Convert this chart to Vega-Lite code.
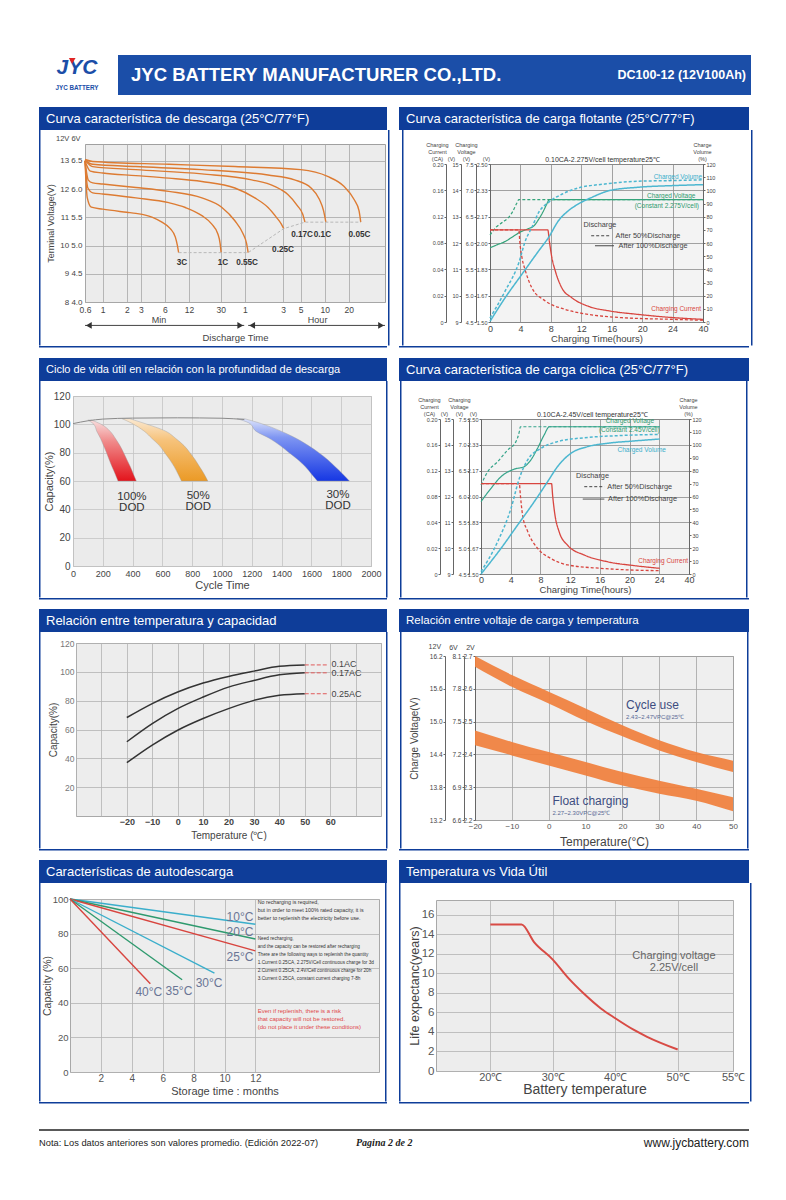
{
"padding":{"left":38,"top":55,"right":4,"bottom":4},
"background":"#ffffff",
"spacing":0,
"config":{
 "view":{"stroke":null},
 "concat":{"spacing":0},
 "font":"Liberation Sans",
 "axis":{"labelFont":"Liberation Sans","titleFont":"Liberation Sans","labelColor":"#444444","titleColor":"#444444","titleFontWeight":"normal","gridColor":"#b0b0b0","gridWidth":0.8,"domain":false,"ticks":false,"labelFlush":false,"labelOverlap":false,"domainColor":"#666666","tickColor":"#666666"},
 "title":{"font":"Liberation Sans","fontWeight":"normal","color":"#444444","frame":"group"},
 "text":{"font":"Liberation Sans"}
},
"datasets":{
"dis":[
{"rate":"3C","t":0.6,"v":13.0},{"rate":"3C","t":0.64,"v":11.7},{"rate":"3C","t":0.72,"v":11.36},{"rate":"3C","t":1,"v":11.29},{"rate":"3C","t":2,"v":11.18},{"rate":"3C","t":2.6,"v":11.14},{"rate":"3C","t":4.2,"v":11.0},{"rate":"3C","t":5.5,"v":10.83},{"rate":"3C","t":7,"v":10.6},{"rate":"3C","t":8.1,"v":10.3},{"rate":"3C","t":8.6,"v":10.0},{"rate":"3C","t":8.9,"v":9.75},
{"rate":"1C","t":0.6,"v":13.0},{"rate":"1C","t":0.65,"v":12.05},{"rate":"1C","t":0.75,"v":11.87},{"rate":"1C","t":1,"v":11.83},{"rate":"1C","t":2.6,"v":11.69},{"rate":"1C","t":6.7,"v":11.52},{"rate":"1C","t":10.8,"v":11.35},{"rate":"1C","t":17.4,"v":11.06},{"rate":"1C","t":23,"v":10.77},{"rate":"1C","t":27.5,"v":10.42},{"rate":"1C","t":29.4,"v":10.08},{"rate":"1C","t":30.3,"v":9.75},
{"rate":"0.55C","t":0.6,"v":13.0},{"rate":"0.55C","t":0.66,"v":12.32},{"rate":"0.55C","t":0.75,"v":12.22},{"rate":"0.55C","t":1,"v":12.18},{"rate":"0.55C","t":2.6,"v":12.06},{"rate":"0.55C","t":6.7,"v":11.92},{"rate":"0.55C","t":17.4,"v":11.69},{"rate":"0.55C","t":31,"v":11.35},{"rate":"0.55C","t":45,"v":10.88},{"rate":"0.55C","t":57,"v":10.42},{"rate":"0.55C","t":63,"v":10.08},{"rate":"0.55C","t":66,"v":9.75},
{"rate":"0.25C","t":0.6,"v":13.0},{"rate":"0.25C","t":0.7,"v":12.64},{"rate":"0.25C","t":1,"v":12.57},{"rate":"0.25C","t":2.6,"v":12.48},{"rate":"0.25C","t":6.7,"v":12.39},{"rate":"0.25C","t":17.4,"v":12.27},{"rate":"0.25C","t":45,"v":12.04},{"rate":"0.25C","t":80,"v":11.69},{"rate":"0.25C","t":117,"v":11.35},{"rate":"0.25C","t":149,"v":11.0},{"rate":"0.25C","t":171,"v":10.77},{"rate":"0.25C","t":184,"v":10.6},
{"rate":"0.17C","t":0.6,"v":13.02},{"rate":"0.17C","t":0.75,"v":12.8},{"rate":"0.17C","t":2.6,"v":12.69},{"rate":"0.17C","t":17.4,"v":12.54},{"rate":"0.17C","t":73,"v":12.33},{"rate":"0.17C","t":141,"v":12.1},{"rate":"0.17C","t":207,"v":11.81},{"rate":"0.17C","t":275,"v":11.4},{"rate":"0.17C","t":317,"v":11.12},{"rate":"0.17C","t":339,"v":10.83},
{"rate":"0.1C","t":0.6,"v":13.03},{"rate":"0.1C","t":0.75,"v":12.88},{"rate":"0.1C","t":2.6,"v":12.8},{"rate":"0.1C","t":17.4,"v":12.69},{"rate":"0.1C","t":117,"v":12.5},{"rate":"0.1C","t":251,"v":12.33},{"rate":"0.1C","t":404,"v":12.04},{"rate":"0.1C","t":513,"v":11.64},{"rate":"0.1C","t":580,"v":11.23},{"rate":"0.1C","t":619,"v":10.83},
{"rate":"0.05C","t":0.6,"v":13.05},{"rate":"0.05C","t":0.75,"v":12.98},{"rate":"0.05C","t":6.7,"v":12.88},{"rate":"0.05C","t":45,"v":12.8},{"rate":"0.05C","t":300,"v":12.69},{"rate":"0.05C","t":651,"v":12.45},{"rate":"0.05C","t":1040,"v":12.1},{"rate":"0.05C","t":1391,"v":11.64},{"rate":"0.05C","t":1611,"v":11.23},{"rate":"0.05C","t":1690,"v":10.83}
],
"disEnd":[{"t":8.9,"v":9.75},{"t":30.3,"v":9.75},{"t":66,"v":9.75},{"t":184,"v":10.6},{"t":339,"v":10.83},{"t":619,"v":10.83},{"t":1690,"v":10.83}],
"disLab":[{"t":9.8,"v":9.38,"label":"3C"},{"t":32,"v":9.38,"label":"1C"},{"t":64,"v":9.38,"label":"0.55C"},{"t":180,"v":9.84,"label":"0.25C"},{"t":312,"v":10.36,"label":"0.17C"},{"t":560,"v":10.36,"label":"0.1C"},{"t":1630,"v":10.36,"label":"0.05C"}],
"disArrow":[{"t":0.6,"t2":58.9,"v":7.17},{"t":66,"t2":3400,"v":7.17}],
"disHead":[{"t":0.67,"v":7.17,"dir":"L"},{"t":52.6,"v":7.17,"dir":"R"},{"t":74,"v":7.17,"dir":"L"},{"t":3036,"v":7.17,"dir":"R"}],
"disUnit":[{"t":5.05,"v":7.36,"label":"Min"},{"t":488,"v":7.36,"label":"Hour"}],
"p2v":[
{"dis":"50%","h":0,"val":2.05},{"dis":"50%","h":0.8,"val":2.1},{"dis":"50%","h":1.6,"val":2.13},{"dis":"50%","h":2.4,"val":2.16},{"dis":"50%","h":3.0,"val":2.2},{"dis":"50%","h":3.5,"val":2.25},{"dis":"50%","h":3.8,"val":2.275},{"dis":"50%","h":40,"val":2.275},
{"dis":"100%","h":0,"val":1.97},{"dis":"100%","h":1,"val":1.99},{"dis":"100%","h":2,"val":2.01},{"dis":"100%","h":3,"val":2.04},{"dis":"100%","h":4,"val":2.07},{"dis":"100%","h":5,"val":2.09},{"dis":"100%","h":5.8,"val":2.11},{"dis":"100%","h":6.4,"val":2.15},{"dis":"100%","h":7.0,"val":2.2},{"dis":"100%","h":7.5,"val":2.25},{"dis":"100%","h":7.8,"val":2.275},{"dis":"100%","h":40,"val":2.275}
],
"p2c":[
{"dis":"100%","h":0,"ca":0.1},{"dis":"100%","h":7.6,"ca":0.1},{"dis":"100%","h":7.8,"ca":0.083},{"dis":"100%","h":8.13,"ca":0.058},{"dis":"100%","h":8.57,"ca":0.039},{"dis":"100%","h":9.43,"ca":0.026},{"dis":"100%","h":10.74,"ca":0.0185},{"dis":"100%","h":12.9,"ca":0.012},{"dis":"100%","h":15.7,"ca":0.0084},{"dis":"100%","h":19.4,"ca":0.0058},{"dis":"100%","h":24.5,"ca":0.0033},{"dis":"100%","h":40,"ca":0.002},
{"dis":"50%","h":0,"ca":0.1},{"dis":"50%","h":3.8,"ca":0.1},{"dis":"50%","h":3.91,"ca":0.083},{"dis":"50%","h":4.2,"ca":0.058},{"dis":"50%","h":4.65,"ca":0.039},{"dis":"50%","h":5.5,"ca":0.026},{"dis":"50%","h":7.26,"ca":0.016},{"dis":"50%","h":9.87,"ca":0.0096},{"dis":"50%","h":12.9,"ca":0.0058},{"dis":"50%","h":17.3,"ca":0.0033},{"dis":"50%","h":24.5,"ca":0.002},{"dis":"50%","h":40,"ca":0.0013}
],
"p2p":[
{"dis":"100%","h":0,"pct":0.5},{"dis":"100%","h":2,"pct":18.5},{"dis":"100%","h":4.2,"pct":36.3},{"dis":"100%","h":6.4,"pct":54},{"dis":"100%","h":7.7,"pct":64.2},{"dis":"100%","h":9,"pct":76.9},{"dis":"100%","h":10.3,"pct":84.5},{"dis":"100%","h":11.6,"pct":89.6},{"dis":"100%","h":13.4,"pct":94.7},{"dis":"100%","h":15.7,"pct":99.8},{"dis":"100%","h":19.4,"pct":102.3},{"dis":"100%","h":24,"pct":103.6},{"dis":"100%","h":40,"pct":104.3},
{"dis":"50%","h":0,"pct":3},{"dis":"50%","h":2,"pct":23.6},{"dis":"50%","h":3.8,"pct":45.2},{"dis":"50%","h":4.65,"pct":61.7},{"dis":"50%","h":5.5,"pct":71.8},{"dis":"50%","h":6.4,"pct":83.2},{"dis":"50%","h":7.7,"pct":90.9},{"dis":"50%","h":9.5,"pct":97.2},{"dis":"50%","h":11.6,"pct":101.8},{"dis":"50%","h":15.1,"pct":104.8},{"dis":"50%","h":19.4,"pct":106.9},{"dis":"50%","h":24,"pct":107.4},{"dis":"50%","h":40,"pct":108}
],
"p2lab":[{"h":39.5,"pct":110.5,"label":"Charged Volume","kind":"vol"},{"h":36,"pct":95.4,"label":"Charged Voltage","kind":"volt"},{"h":37.9,"pct":88.3,"label":"(Constant 2.275V/cell)","kind":"volt"},{"h":39,"pct":9.6,"label":"Charging Current","kind":"cur"}],
"p2leg":[{"h":12.3,"pct":73.6,"label":"Discharge"},{"h":16.5,"pct":65.5,"label":"After 50%Discharge"},{"h":16.9,"pct":57.9,"label":"After 100%Discharge"}],
"p2legl":[{"h":13.3,"h2":15.9,"pct":65.5,"dis":"50%"},{"h":13.8,"h2":16.3,"pct":57.9,"dis":"100%"}],
"p2title":[{"h":14.8,"pct":120.6,"label":"0.10CA-2.275V/cell temperature25℃"}],
"p4v":[
{"dis":"50%","h":0,"val":2.074},{"dis":"50%","h":0.9,"val":2.16},{"dis":"50%","h":2.24,"val":2.225},{"dis":"50%","h":3.59,"val":2.3},{"dis":"50%","h":4.7,"val":2.354},{"dis":"50%","h":5.16,"val":2.418},{"dis":"50%","h":5.3,"val":2.45},{"dis":"50%","h":24.2,"val":2.45},
{"dis":"100%","h":0,"val":1.967},{"dis":"100%","h":1.35,"val":2.053},{"dis":"100%","h":2.7,"val":2.128},{"dis":"100%","h":4.5,"val":2.177},{"dis":"100%","h":5.8,"val":2.192},{"dis":"100%","h":6.7,"val":2.235},{"dis":"100%","h":7.6,"val":2.31},{"dis":"100%","h":8.5,"val":2.397},{"dis":"100%","h":9.2,"val":2.45},{"dis":"100%","h":24.2,"val":2.45}
],
"p4c":[
{"dis":"100%","h":0,"ca":0.1},{"dis":"100%","h":9.5,"ca":0.1},{"dis":"100%","h":9.64,"ca":0.082},{"dis":"100%","h":9.96,"ca":0.051},{"dis":"100%","h":10.5,"ca":0.033},{"dis":"100%","h":11.7,"ca":0.022},{"dis":"100%","h":13.9,"ca":0.0147},{"dis":"100%","h":17,"ca":0.0095},{"dis":"100%","h":20.6,"ca":0.0065},{"dis":"100%","h":24.2,"ca":0.0044},
{"dis":"50%","h":0,"ca":0.1},{"dis":"50%","h":5.16,"ca":0.1},{"dis":"50%","h":5.3,"ca":0.082},{"dis":"50%","h":5.6,"ca":0.051},{"dis":"50%","h":6.28,"ca":0.033},{"dis":"50%","h":7.6,"ca":0.02},{"dis":"50%","h":9.4,"ca":0.012},{"dis":"50%","h":11.7,"ca":0.007},{"dis":"50%","h":16.1,"ca":0.0044},{"dis":"50%","h":20.6,"ca":0.003},{"dis":"50%","h":24.2,"ca":0.0026}
],
"p4p":[
{"dis":"100%","h":0,"pct":0},{"dis":"100%","h":2.7,"pct":19.9},{"dis":"100%","h":4.93,"pct":37.9},{"dis":"100%","h":7.17,"pct":56},{"dis":"100%","h":8.97,"pct":71.5},{"dis":"100%","h":10.3,"pct":83.1},{"dis":"100%","h":12.1,"pct":93.4},{"dis":"100%","h":14.35,"pct":98.6},{"dis":"100%","h":17,"pct":101.2},{"dis":"100%","h":20.6,"pct":103},{"dis":"100%","h":24.2,"pct":104.5},
{"dis":"50%","h":0,"pct":1.8},{"dis":"50%","h":2.24,"pct":25},{"dis":"50%","h":4.04,"pct":50.8},{"dis":"50%","h":5.16,"pct":74},{"dis":"50%","h":6.28,"pct":88.3},{"dis":"50%","h":8.07,"pct":97.3},{"dis":"50%","h":10.3,"pct":102.5},{"dis":"50%","h":13.9,"pct":105.5},{"dis":"50%","h":18.4,"pct":107.1},{"dis":"50%","h":24.2,"pct":108.1}
],
"p4lab":[{"h":23.3,"pct":118.5,"label":"Charged Voltage","kind":"volt"},{"h":24.2,"pct":111.5,"label":"(Constant 2.45V/cell)","kind":"volt"},{"h":27.6,"pct":96,"label":"Charged Volume","kind":"vol"},{"h":39.5,"pct":10.3,"label":"Charging Current","kind":"cur"}],
"p4leg":[{"h":12.8,"pct":75.9,"label":"Discharge"},{"h":17.0,"pct":67.6,"label":"After 50%Discharge"},{"h":17.1,"pct":58,"label":"After 100%Discharge"}],
"p4legl":[{"h":13.9,"h2":16.6,"pct":67.6,"dis":"50%"},{"h":13.7,"h2":16.6,"pct":58,"dis":"100%"}],
"p4title":[{"h":15,"pct":120.6,"label":"0.10CA-2.45V/cell temperature25℃"}],
"p3top":[{"cyc":0,"cap":100.5},{"cyc":100,"cap":102.5},{"cyc":200,"cap":103.7},{"cyc":400,"cap":104.4},{"cyc":700,"cap":104.6},{"cyc":1000,"cap":104.3},{"cyc":1150,"cap":103.4}],
"p3band":[
{"band":"r","cap":103,"lo":100,"hi":125},{"band":"r","cap":100,"lo":140,"hi":190},{"band":"r","cap":95,"lo":160,"hi":250},{"band":"r","cap":90,"lo":185,"hi":285},{"band":"r","cap":85,"lo":205,"hi":315},{"band":"r","cap":80,"lo":225,"hi":340},{"band":"r","cap":75,"lo":243,"hi":362},{"band":"r","cap":70,"lo":262,"hi":385},{"band":"r","cap":65,"lo":283,"hi":405},{"band":"r","cap":60,"lo":302,"hi":425},
{"band":"o","cap":104,"lo":330,"hi":380},{"band":"o","cap":101,"lo":390,"hi":470},{"band":"o","cap":95,"lo":480,"hi":625},{"band":"o","cap":90,"lo":530,"hi":690},{"band":"o","cap":85,"lo":580,"hi":745},{"band":"o","cap":80,"lo":615,"hi":785},{"band":"o","cap":75,"lo":650,"hi":820},{"band":"o","cap":70,"lo":680,"hi":850},{"band":"o","cap":65,"lo":705,"hi":880},{"band":"o","cap":60,"lo":728,"hi":905},
{"band":"b","cap":104,"lo":1100,"hi":1150},{"band":"b","cap":101,"lo":1180,"hi":1250},{"band":"b","cap":95,"lo":1230,"hi":1400},{"band":"b","cap":90,"lo":1320,"hi":1500},{"band":"b","cap":85,"lo":1390,"hi":1580},{"band":"b","cap":80,"lo":1450,"hi":1650},{"band":"b","cap":75,"lo":1510,"hi":1710},{"band":"b","cap":70,"lo":1560,"hi":1760},{"band":"b","cap":65,"lo":1600,"hi":1810},{"band":"b","cap":60,"lo":1640,"hi":1855}
],
"p3lab":[{"cyc":395,"cap":48.5,"label":"100%\nDOD"},{"cyc":840,"cap":49.6,"label":"50%\nDOD"},{"cyc":1778,"cap":50.2,"label":"30%\nDOD"}],
"p5":[
{"rate":"0.1AC","temp":-20,"cap":68.3},{"rate":"0.1AC","temp":-10,"cap":78},{"rate":"0.1AC","temp":0,"cap":86},{"rate":"0.1AC","temp":10,"cap":92.2},{"rate":"0.1AC","temp":20,"cap":96.8},{"rate":"0.1AC","temp":30,"cap":100.5},{"rate":"0.1AC","temp":40,"cap":103.9},{"rate":"0.1AC","temp":50,"cap":104.8},
{"rate":"0.17AC","temp":-20,"cap":51.5},{"rate":"0.17AC","temp":-10,"cap":64.1},{"rate":"0.17AC","temp":0,"cap":74.5},{"rate":"0.17AC","temp":10,"cap":82.5},{"rate":"0.17AC","temp":20,"cap":89.4},{"rate":"0.17AC","temp":30,"cap":94},{"rate":"0.17AC","temp":40,"cap":97.9},{"rate":"0.17AC","temp":50,"cap":99.3},
{"rate":"0.25AC","temp":-20,"cap":37},{"rate":"0.25AC","temp":-10,"cap":49.2},{"rate":"0.25AC","temp":0,"cap":59.5},{"rate":"0.25AC","temp":10,"cap":67.6},{"rate":"0.25AC","temp":20,"cap":74.5},{"rate":"0.25AC","temp":30,"cap":80.2},{"rate":"0.25AC","temp":40,"cap":83.7},{"rate":"0.25AC","temp":50,"cap":84.8}
],
"p5d":[{"temp":50,"temp2":59.3,"cap":104.8},{"temp":50,"temp2":59.3,"cap":99.3},{"temp":50,"temp2":59.3,"cap":84.8}],
"p5lab":[{"temp":60.5,"cap":105.6,"label":"0.1AC"},{"temp":60.5,"cap":99.2,"label":"0.17AC"},{"temp":60.5,"cap":84.6,"label":"0.25AC"}],
"p6":[
{"band":"cycle","temp":-20,"hi":2.7,"lo":2.667},{"band":"cycle","temp":-10,"hi":2.642,"lo":2.606},{"band":"cycle","temp":0,"hi":2.591,"lo":2.555},{"band":"cycle","temp":10,"hi":2.54,"lo":2.502},{"band":"cycle","temp":20,"hi":2.489,"lo":2.455},{"band":"cycle","temp":30,"hi":2.443,"lo":2.412},{"band":"cycle","temp":40,"hi":2.407,"lo":2.377},{"band":"cycle","temp":50,"hi":2.381,"lo":2.346},
{"band":"float","temp":-20,"hi":2.473,"lo":2.428},{"band":"float","temp":-10,"hi":2.438,"lo":2.397},{"band":"float","temp":0,"hi":2.407,"lo":2.366},{"band":"float","temp":10,"hi":2.377,"lo":2.336},{"band":"float","temp":20,"hi":2.346,"lo":2.305},{"band":"float","temp":30,"hi":2.32,"lo":2.28},{"band":"float","temp":40,"hi":2.295,"lo":2.259},{"band":"float","temp":50,"hi":2.269,"lo":2.227}
],
"p6lab":[{"temp":21,"v":2.55,"label":"Cycle use"},{"temp":1,"v":2.259,"label":"Float charging"}],
"p6sub":[{"temp":21,"v":2.513,"label":"2.43~2.47VPC@25℃"},{"temp":1,"v":2.221,"label":"2.27~2.30VPC@25℃"}],
"p6hdr":[{"temp":-30.9,"v":2.7274,"label":"12V"}],
"p7":[
{"temp":"10°C","m":0,"cap":100},{"temp":"10°C","m":12,"cap":85.4},
{"temp":"20°C","m":0,"cap":100},{"temp":"20°C","m":12,"cap":76.9},
{"temp":"25°C","m":0,"cap":100},{"temp":"25°C","m":12,"cap":70},
{"temp":"30°C","m":0,"cap":100},{"temp":"30°C","m":9.35,"cap":57.1},
{"temp":"35°C","m":0,"cap":100},{"temp":"35°C","m":7.26,"cap":53.3},
{"temp":"40°C","m":0,"cap":100},{"temp":"40°C","m":5.2,"cap":51}
],
"p7lab":[{"m":11,"cap":89.8,"label":"10°C"},{"m":11,"cap":81.2,"label":"20°C"},{"m":11,"cap":66.7,"label":"25°C"},{"m":9,"cap":51.3,"label":"30°C"},{"m":7.05,"cap":46.9,"label":"35°C"},{"m":5.1,"cap":46.5,"label":"40°C"}],
"p7t1":[{"m":12.15,"cap":99.3,"label":"No recharging is required,\nbut in order to meet 100% rated capacity, it is\nbetter to replenish the electricity before use."}],
"p7t2":[{"m":12.15,"cap":78.6,"label":"Need recharging,\nand the capacity can be restored after recharging\nThere are the following ways to replenish the quantity\n1.Current 0.25CA, 2.275V/Cell continuous charge for 3d\n2.Current 0.25CA, 2.4V/Cell continuous charge for 20h\n3.Current 0.25CA, constant current charging 7-8h"}],
"p7t3":[{"m":12.15,"cap":37.2,"label":"Even if replenish, there is a risk\nthat capacity will not be restored.\n(do not place it under these conditions)"}],
"p8":[{"temp":20,"life":15},{"temp":25,"life":15},{"temp":27,"life":13.2},{"temp":30,"life":11.4},{"temp":32.5,"life":9.5},{"temp":35,"life":7.9},{"temp":37.7,"life":6.4},{"temp":40,"life":5.4},{"temp":43,"life":4.2},{"temp":45.1,"life":3.5},{"temp":50,"life":2.2}],
"p8lab":[{"temp":49.4,"life":11.75,"label":"Charging voltage\n2.25V/cell"}]
},
"vconcat":[
{"spacing":0,"hconcat":[
 {"width":14,"height":1,"data":{"values":[]},"mark":"point"},
 {"width":48,"height":37,"layer":[
  {"data":{"values":[{"label":"JYC"}]},"mark":{"type":"text","fontSize":21,"fontWeight":"bold","fontStyle":"italic","color":"#1b4ea8"},"encoding":{"text":{"field":"label"},"x":{"datum":0.5,"type":"quantitative","scale":{"domain":[0,1],"nice":false},"axis":null},"y":{"datum":0.64,"type":"quantitative","scale":{"domain":[0,1],"nice":false},"axis":null}}},
  {"data":{"values":[{"label":"mark"}]},"mark":{"type":"point","shape":"triangle-down","filled":true,"size":45,"color":"#e02424","opacity":1},"encoding":{"x":{"datum":0.4,"type":"quantitative"},"y":{"datum":0.84,"type":"quantitative"}}},
  {"data":{"values":[{"label":"JYC BATTERY"}]},"mark":{"type":"text","fontSize":6.3,"fontWeight":"bold","color":"#1b4ea8"},"encoding":{"text":{"field":"label"},"x":{"datum":0.5,"type":"quantitative"},"y":{"datum":0.1,"type":"quantitative"}}}
 ]},
 {"width":17,"height":1,"data":{"values":[]},"mark":"point"},
 {"width":633,"height":40,"view":{"fill":"#1b4ea8","stroke":null},"layer":[
  {"data":{"values":[{"label":"JYC BATTERY MANUFACTURER CO.,LTD."}]},"mark":{"type":"text","align":"left","dx":13,"fontSize":18.5,"fontWeight":"bold","color":"#ffffff"},"encoding":{"text":{"field":"label"},"x":{"datum":0,"type":"quantitative","scale":{"domain":[0,1],"nice":false},"axis":null}}},
  {"data":{"values":[{"label":"DC100-12 (12V100Ah)"}]},"mark":{"type":"text","align":"right","dx":-5,"fontSize":12.5,"fontWeight":"bold","color":"#ffffff"},"encoding":{"text":{"field":"label"},"x":{"datum":1,"type":"quantitative"}}}
 ]}
]},
{"width":1,"height":12,"data":{"values":[]},"mark":"point"},
{"spacing":0,"hconcat":[
 {"width":348,"height":23,"view":{"fill":"#0e3d99","stroke":null},"data":{"values":[{"label":"Curva característica de descarga (25°C/77°F)"}]},"mark":{"type":"text","align":"left","dx":7,"fontSize":13,"color":"#ffffff"},"encoding":{"text":{"field":"label"},"x":{"datum":0,"type":"quantitative","scale":{"domain":[0,1],"nice":false},"axis":null}}},
 {"width":12,"height":1,"data":{"values":[]},"mark":"point"},
 {"width":350,"height":23,"view":{"fill":"#0e3d99","stroke":null},"data":{"values":[{"label":"Curva característica de carga flotante (25°C/77°F)"}]},"mark":{"type":"text","align":"left","dx":7,"fontSize":13,"color":"#ffffff"},"encoding":{"text":{"field":"label"},"x":{"datum":0,"type":"quantitative","scale":{"domain":[0,1],"nice":false},"axis":null}}}
]},
{"spacing":0,"hconcat":[
 {"width":1.5,"height":215.5,"data":{"values":[]},"mark":"point","view":{"fill":"#0e3d99","stroke":null}},
 {"width":3.5,"height":1,"data":{"values":[]},"mark":"point"},
 {"spacing":0,"vconcat":[
  {"width":1,"height":3.5,"data":{"values":[]},"mark":"point"},
  {"width":300,"height":158,"view":{"fill":"#ececec","stroke":"#a0a0a0"},
   "title":{"text":"12V 6V","anchor":"start","dx":-29,"fontSize":7.5,"offset":2},
   "layer":[
    {"data":{"name":"dis"},"mark":{"type":"line","color":"#dd7b32","strokeWidth":1.4,"interpolate":"monotone"},
     "encoding":{"x":{"field":"t","type":"quantitative","scale":{"type":"log","domain":[0.6,3400],"nice":false},"axis":{"values":[0.6,1,2,3,6,12,30,60,180,300,600,1200],"tickCount":100,"labelExpr":"datum.value >= 60 ? toString(datum.value/60) : toString(datum.value)","labelOverlap":false,"labelFontSize":8.5,"labelPadding":3,"gridColor":"#a8a8a8","title":"Discharge Time","titleFontSize":9.5,"titlePadding":18.5}},
      "y":{"field":"v","type":"quantitative","scale":{"domain":[8,13.6],"nice":false},"axis":{"values":[8,9,10,11,12,13],"tickCount":100,"labelExpr":"datum.value + ' ' + format(datum.value/2,'.1f')","labelOverlap":false,"labelFontSize":8,"labelPadding":3,"minExtent":26,"maxExtent":26,"gridColor":"#a8a8a8","title":"Terminal Voltage(V)","titleFontSize":9,"titlePadding":4}},
      "detail":{"field":"rate","type":"nominal"}}},
    {"data":{"name":"disEnd"},"mark":{"type":"line","color":"#b8b8b8","strokeDash":[3,2],"strokeWidth":1},"encoding":{"x":{"field":"t","type":"quantitative"},"y":{"field":"v","type":"quantitative"}}},
    {"data":{"name":"disLab"},"mark":{"type":"text","fontSize":8.2,"fontWeight":"bold","color":"#333333"},"encoding":{"x":{"field":"t","type":"quantitative"},"y":{"field":"v","type":"quantitative"},"text":{"field":"label"}}},
    {"data":{"name":"disArrow"},"mark":{"type":"rule","color":"#444444","strokeWidth":1},"encoding":{"x":{"field":"t","type":"quantitative"},"x2":{"field":"t2"},"y":{"field":"v","type":"quantitative"}}},
    {"data":{"name":"disHead"},"mark":{"type":"point","filled":true,"color":"#333333","size":45,"opacity":1},"encoding":{"x":{"field":"t","type":"quantitative"},"y":{"field":"v","type":"quantitative"},"shape":{"field":"dir","type":"nominal","scale":{"domain":["L","R"],"range":["triangle-left","triangle-right"]},"legend":null}}},
    {"data":{"name":"disUnit"},"mark":{"type":"text","fontSize":9,"color":"#444444"},"encoding":{"x":{"field":"t","type":"quantitative"},"y":{"field":"v","type":"quantitative"},"text":{"field":"label"}}}
   ]}
 ]},
 {"width":1.5,"height":1,"data":{"values":[]},"mark":"point"},
 {"width":1.5,"height":215.5,"data":{"values":[]},"mark":"point","view":{"fill":"#0e3d99","stroke":null}},
 {"width":12,"height":1,"data":{"values":[]},"mark":"point"},
 {"width":1.5,"height":215.5,"data":{"values":[]},"mark":"point","view":{"fill":"#0e3d99","stroke":null}},
 {"width":21,"height":1,"data":{"values":[]},"mark":"point"},
 {"spacing":0,"vconcat":[
  {"width":1,"height":10.5,"data":{"values":[]},"mark":"point"},
  {"width":213,"height":158,"view":{"fill":"#f3f3f3","stroke":"#777777"},
   "resolve":{"scale":{"y":"independent"},"axis":{"y":"independent"}},
   "layer":[
    {"data":{"name":"p2v"},"mark":{"type":"line","color":"#35a47b","strokeWidth":1.2,"interpolate":"monotone"},
     "encoding":{
      "x":{"field":"h","type":"quantitative","scale":{"domain":[0,24,40],"range":[0,182.571,213],"nice":false},"axis":{"values":[0,4,8,12,16,20,24,40],"tickCount":100,"format":"d","labelOverlap":false,"labelFontSize":9,"labelPadding":2,"gridColor":"#8c8c8c","title":"Charging Time(hours)","titleFontSize":9.5,"titlePadding":0}},
      "y":{"field":"val","type":"quantitative","scale":{"domain":[1.5,2.5],"nice":false},"axis":{"orient":"left","offset":0,"values":[1.5,1.6667,1.8333,2,2.1667,2.3333,2.5],"tickCount":100,"format":".2f","labelOverlap":false,"labelFontSize":5.5,"labelPadding":1,"ticks":true,"tickSize":2,"domain":true,"gridColor":"#8c8c8c","title":"(V)","titleAngle":0,"titleX":-4,"titleY":-8,"titleAlign":"center","titleBaseline":"top","titleFontSize":5.5}},
      "strokeDash":{"field":"dis","type":"nominal","scale":{"domain":["50%","100%"],"range":[[3,2],[1,0]]},"legend":null}}},
    {"data":{"name":"p2v"},"mark":{"type":"point","opacity":0},
     "encoding":{"x":{"field":"h","type":"quantitative"},"y":{"field":"val","type":"quantitative","scale":{"domain":[1.5,2.5],"nice":false},"axis":{"orient":"left","offset":14,"values":[1.5,1.6667,1.8333,2,2.1667,2.3333,2.5],"tickCount":100,"labelExpr":"format(datum.value*3,'.1f')","labelOverlap":false,"labelFontSize":5.5,"labelPadding":1,"ticks":true,"tickSize":2,"domain":true,"grid":false,"title":["Charging","Voltage","(V)"],"titleAngle":0,"titleX":-10,"titleY":-22,"titleAlign":"center","titleBaseline":"top","titleFontSize":5.5,"titleLineHeight":7}}}},
    {"data":{"name":"p2v"},"mark":{"type":"point","opacity":0},
     "encoding":{"x":{"field":"h","type":"quantitative"},"y":{"field":"val","type":"quantitative","scale":{"domain":[1.5,2.5],"nice":false},"axis":{"orient":"left","offset":29,"values":[1.5,1.6667,1.8333,2,2.1667,2.3333,2.5],"tickCount":100,"labelExpr":"format(datum.value*6,'.0f')","labelOverlap":false,"labelFontSize":5.5,"labelPadding":1,"ticks":true,"tickSize":2,"domain":true,"grid":false,"title":"(V)","titleAngle":0,"titleX":-10,"titleY":-8,"titleAlign":"center","titleBaseline":"top","titleFontSize":5.5}}}},
    {"data":{"name":"p2c"},"mark":{"type":"line","color":"#d8453f","strokeWidth":1.3,"interpolate":"monotone"},
     "encoding":{"x":{"field":"h","type":"quantitative"},"y":{"field":"ca","type":"quantitative","scale":{"domain":[0,0.02,0.04,0.2],"range":[158,131.667,105.333,0],"nice":false},"axis":{"orient":"left","offset":44,"values":[0,0.02,0.04,0.08,0.12,0.16,0.2],"tickCount":100,"labelExpr":"datum.value == 0 ? '0' : format(datum.value,'.2f')","labelOverlap":false,"labelFontSize":5.5,"labelPadding":1,"ticks":true,"tickSize":2,"domain":true,"grid":false,"title":["Charging","Current","(CA)"],"titleAngle":0,"titleX":-9,"titleY":-22,"titleAlign":"center","titleBaseline":"top","titleFontSize":5.5,"titleLineHeight":7}},
      "strokeDash":{"field":"dis","type":"nominal","legend":null}}},
    {"data":{"name":"p2p"},"mark":{"type":"line","color":"#4cb7d0","strokeWidth":1.5,"interpolate":"monotone"},
     "encoding":{"x":{"field":"h","type":"quantitative"},"y":{"field":"pct","type":"quantitative","scale":{"domain":[0,120],"nice":false},"axis":{"orient":"right","values":[0,10,20,30,40,50,60,70,80,90,100,110,120],"tickCount":100,"format":"d","labelOverlap":false,"labelFontSize":5.5,"labelPadding":1,"ticks":true,"tickSize":2,"domain":true,"grid":false,"title":["Charge","Volume","(%)"],"titleAngle":0,"titleX":-1,"titleY":-22,"titleAlign":"center","titleBaseline":"top","titleFontSize":5.5,"titleLineHeight":7}},
      "strokeDash":{"field":"dis","type":"nominal","legend":null}}},
    {"data":{"name":"p2lab"},"mark":{"type":"text","align":"right","fontSize":6.5},"encoding":{"x":{"field":"h","type":"quantitative"},"y":{"field":"pct","type":"quantitative","scale":{"domain":[0,120],"nice":false},"axis":null},"text":{"field":"label"},"color":{"field":"kind","type":"nominal","scale":{"domain":["vol","volt","cur"],"range":["#3aaecb","#2e9a6e","#d8453f"]},"legend":null}}},
    {"data":{"name":"p2leg"},"mark":{"type":"text","align":"left","fontSize":7.3,"color":"#444444"},"encoding":{"x":{"field":"h","type":"quantitative"},"y":{"field":"pct","type":"quantitative","scale":{"domain":[0,120],"nice":false},"axis":null},"text":{"field":"label"}}},
    {"data":{"name":"p2title"},"mark":{"type":"text","align":"center","baseline":"bottom","fontSize":7,"color":"#333333"},"encoding":{"x":{"field":"h","type":"quantitative"},"y":{"field":"pct","type":"quantitative","scale":{"domain":[0,120],"nice":false},"axis":null},"text":{"field":"label"}}},
    {"data":{"name":"p2legl"},"mark":{"type":"rule","color":"#444444","strokeWidth":1},"encoding":{"x":{"field":"h","type":"quantitative"},"x2":{"field":"h2"},"y":{"field":"pct","type":"quantitative","scale":{"domain":[0,120],"nice":false},"axis":null},"strokeDash":{"field":"dis","type":"nominal","legend":null}}}
   ]}
 ]},
 {"width":34.3,"height":1,"data":{"values":[]},"mark":"point"},
 {"width":1.5,"height":215.5,"data":{"values":[]},"mark":"point","view":{"fill":"#0e3d99","stroke":null}}
]},
{"spacing":0,"hconcat":[
 {"width":348,"height":1.5,"data":{"values":[]},"mark":"point","view":{"fill":"#0e3d99","stroke":null}},
 {"width":12,"height":1,"data":{"values":[]},"mark":"point"},
 {"width":350,"height":1.5,"data":{"values":[]},"mark":"point","view":{"fill":"#0e3d99","stroke":null}}
]},
{"width":1,"height":9.5,"data":{"values":[]},"mark":"point"},
{"spacing":0,"hconcat":[
 {"width":348,"height":23,"view":{"fill":"#0e3d99","stroke":null},"data":{"values":[{"label":"Ciclo de vida útil en relación con la profundidad de descarga"}]},"mark":{"type":"text","align":"left","dx":7,"fontSize":11,"color":"#ffffff"},"encoding":{"text":{"field":"label"},"x":{"datum":0,"type":"quantitative","scale":{"domain":[0,1],"nice":false},"axis":null}}},
 {"width":12,"height":1,"data":{"values":[]},"mark":"point"},
 {"width":350,"height":23,"view":{"fill":"#0e3d99","stroke":null},"data":{"values":[{"label":"Curva característica de carga cíclica (25°C/77°F)"}]},"mark":{"type":"text","align":"left","dx":7,"fontSize":13,"color":"#ffffff"},"encoding":{"text":{"field":"label"},"x":{"datum":0,"type":"quantitative","scale":{"domain":[0,1],"nice":false},"axis":null}}}
]},
{"spacing":0,"hconcat":[
 {"width":1.5,"height":216.5,"data":{"values":[]},"mark":"point","view":{"fill":"#0e3d99","stroke":null}},
 {"width":0.1,"height":1,"data":{"values":[]},"mark":"point"},
 {"spacing":0,"vconcat":[
  {"width":1,"height":9,"data":{"values":[]},"mark":"point"},
  {"width":298,"height":170,"view":{"fill":"#ebebeb","stroke":"#b8b8b8"},
   "layer":[
    {"data":{"name":"p3band"},"transform":[{"filter":"datum.band == 'r'"}],"mark":{"type":"area","orient":"horizontal","interpolate":"monotone","fill":{"gradient":"linear","x1":0,"y1":0,"x2":0,"y2":1,"stops":[{"offset":0,"color":"#f8dede"},{"offset":0.35,"color":"#f08a8a"},{"offset":1,"color":"#e3141c"}]},"stroke":"#9a9a9a","strokeWidth":0.4},
     "encoding":{"y":{"field":"cap","type":"quantitative","scale":{"domain":[0,120],"nice":false},"axis":{"values":[0,20,40,60,80,100,120],"tickCount":100,"format":"d","labelOverlap":false,"labelFontSize":10,"labelPadding":3,"minExtent":19,"maxExtent":19,"gridColor":"#c4c4c4","title":"Capacity(%)","titleFontSize":11,"titlePadding":0}},
      "x":{"field":"lo","type":"quantitative","scale":{"domain":[0,2000],"nice":false},"axis":{"values":[0,200,400,600,800,1000,1200,1400,1600,1800,2000],"tickCount":100,"format":"d","labelOverlap":false,"labelFontSize":9,"labelPadding":3,"gridColor":"#c4c4c4","title":"Cycle Time","titleFontSize":11,"titlePadding":1}},
      "x2":{"field":"hi"}}},
    {"data":{"name":"p3band"},"transform":[{"filter":"datum.band == 'o'"}],"mark":{"type":"area","orient":"horizontal","interpolate":"monotone","fill":{"gradient":"linear","x1":0,"y1":0,"x2":0,"y2":1,"stops":[{"offset":0,"color":"#fbe9d2"},{"offset":0.35,"color":"#f6c27a"},{"offset":1,"color":"#eb9a26"}]},"stroke":"#9a9a9a","strokeWidth":0.4},
     "encoding":{"y":{"field":"cap","type":"quantitative"},"x":{"field":"lo","type":"quantitative"},"x2":{"field":"hi"}}},
    {"data":{"name":"p3band"},"transform":[{"filter":"datum.band == 'b'"}],"mark":{"type":"area","orient":"horizontal","interpolate":"monotone","fill":{"gradient":"linear","x1":0,"y1":0,"x2":0,"y2":1,"stops":[{"offset":0,"color":"#dfe5fb"},{"offset":0.3,"color":"#7f96f2"},{"offset":1,"color":"#1637e3"}]},"stroke":"#9a9a9a","strokeWidth":0.4},
     "encoding":{"y":{"field":"cap","type":"quantitative"},"x":{"field":"lo","type":"quantitative"},"x2":{"field":"hi"}}},
    {"data":{"name":"p3top"},"mark":{"type":"line","color":"#8a8a8a","strokeWidth":1,"interpolate":"monotone"},"encoding":{"x":{"field":"cyc","type":"quantitative"},"y":{"field":"cap","type":"quantitative"}}},
    {"data":{"name":"p3lab"},"mark":{"type":"text","fontSize":11.5,"color":"#333333","lineBreak":"\n","lineHeight":11},"encoding":{"x":{"field":"cyc","type":"quantitative"},"y":{"field":"cap","type":"quantitative"},"text":{"field":"label"}}}
   ]}
 ]},
 {"width":3.2,"height":1,"data":{"values":[]},"mark":"point"},
 {"width":1.5,"height":216.5,"data":{"values":[]},"mark":"point","view":{"fill":"#0e3d99","stroke":null}},
 {"width":12,"height":1,"data":{"values":[]},"mark":"point"},
 {"width":1.5,"height":216.5,"data":{"values":[]},"mark":"point","view":{"fill":"#0e3d99","stroke":null}},
 {"width":14.8,"height":1,"data":{"values":[]},"mark":"point"},
 {"spacing":0,"vconcat":[
  {"width":1,"height":14.8,"data":{"values":[]},"mark":"point"},
  {"width":208,"height":155,"view":{"fill":"#f3f3f3","stroke":"#777777"},
   "resolve":{"scale":{"y":"independent"},"axis":{"y":"independent"}},
   "layer":[
    {"data":{"name":"p4v"},"mark":{"type":"line","color":"#35a48a","strokeWidth":1.2,"interpolate":"monotone"},
     "encoding":{
      "x":{"field":"h","type":"quantitative","scale":{"domain":[0,24,40],"range":[0,178.286,208],"nice":false},"axis":{"values":[0,4,8,12,16,20,24,40],"tickCount":100,"format":"d","labelOverlap":false,"labelFontSize":9,"labelPadding":1.5,"gridColor":"#8c8c8c","title":"Charging Time(hours)","titleFontSize":9.5,"titlePadding":0}},
      "y":{"field":"val","type":"quantitative","scale":{"domain":[1.5,2.5],"nice":false},"axis":{"orient":"left","offset":0,"values":[1.5,1.6667,1.8333,2,2.1667,2.3333,2.5],"tickCount":100,"format":".2f","labelOverlap":false,"labelFontSize":5.5,"labelPadding":1,"ticks":true,"tickSize":2,"domain":true,"gridColor":"#8c8c8c","title":"(V)","titleAngle":0,"titleX":-8,"titleY":-8,"titleAlign":"center","titleBaseline":"top","titleFontSize":5.5}},
      "strokeDash":{"field":"dis","type":"nominal","scale":{"domain":["50%","100%"],"range":[[3,2],[1,0]]},"legend":null}}},
    {"data":{"name":"p4v"},"mark":{"type":"point","opacity":0},
     "encoding":{"x":{"field":"h","type":"quantitative"},"y":{"field":"val","type":"quantitative","scale":{"domain":[1.5,2.5],"nice":false},"axis":{"orient":"left","offset":12,"values":[1.5,1.6667,1.8333,2,2.1667,2.3333,2.5],"tickCount":100,"labelExpr":"format(datum.value*3,'.1f')","labelOverlap":false,"labelFontSize":5.5,"labelPadding":1,"ticks":true,"tickSize":2,"domain":true,"grid":false,"title":["Charging","Voltage","(V)"],"titleAngle":0,"titleX":-10,"titleY":-22,"titleAlign":"center","titleBaseline":"top","titleFontSize":5.5,"titleLineHeight":7}}}},
    {"data":{"name":"p4v"},"mark":{"type":"point","opacity":0},
     "encoding":{"x":{"field":"h","type":"quantitative"},"y":{"field":"val","type":"quantitative","scale":{"domain":[1.5,2.5],"nice":false},"axis":{"orient":"left","offset":28,"values":[1.5,1.6667,1.8333,2,2.1667,2.3333,2.5],"tickCount":100,"labelExpr":"format(datum.value*6,'.0f')","labelOverlap":false,"labelFontSize":5.5,"labelPadding":1,"ticks":true,"tickSize":2,"domain":true,"grid":false,"title":"(V)","titleAngle":0,"titleX":-9,"titleY":-8,"titleAlign":"center","titleBaseline":"top","titleFontSize":5.5}}}},
    {"data":{"name":"p4c"},"mark":{"type":"line","color":"#d8453f","strokeWidth":1.3,"interpolate":"monotone"},
     "encoding":{"x":{"field":"h","type":"quantitative"},"y":{"field":"ca","type":"quantitative","scale":{"domain":[0,0.02,0.04,0.2],"range":[155,129.167,103.333,0],"nice":false},"axis":{"orient":"left","offset":41,"values":[0,0.02,0.04,0.08,0.12,0.16,0.2],"tickCount":100,"labelExpr":"datum.value == 0 ? '0' : format(datum.value,'.2f')","labelOverlap":false,"labelFontSize":5.5,"labelPadding":1,"ticks":true,"tickSize":2,"domain":true,"grid":false,"title":["Charging","Current","(CA)"],"titleAngle":0,"titleX":-11,"titleY":-22,"titleAlign":"center","titleBaseline":"top","titleFontSize":5.5,"titleLineHeight":7}},
      "strokeDash":{"field":"dis","type":"nominal","legend":null}}},
    {"data":{"name":"p4p"},"mark":{"type":"line","color":"#4cb7d0","strokeWidth":1.5,"interpolate":"monotone"},
     "encoding":{"x":{"field":"h","type":"quantitative"},"y":{"field":"pct","type":"quantitative","scale":{"domain":[0,120],"nice":false},"axis":{"orient":"right","values":[0,10,20,30,40,50,60,70,80,90,100,110,120],"tickCount":100,"format":"d","labelOverlap":false,"labelFontSize":5.5,"labelPadding":1,"ticks":true,"tickSize":2,"domain":true,"grid":false,"title":["Charge","Volume","(%)"],"titleAngle":0,"titleX":-1,"titleY":-22,"titleAlign":"center","titleBaseline":"top","titleFontSize":5.5,"titleLineHeight":7}},
      "strokeDash":{"field":"dis","type":"nominal","legend":null}}},
    {"data":{"name":"p4lab"},"mark":{"type":"text","align":"right","fontSize":6.5},"encoding":{"x":{"field":"h","type":"quantitative"},"y":{"field":"pct","type":"quantitative","scale":{"domain":[0,120],"nice":false},"axis":null},"text":{"field":"label"},"color":{"field":"kind","type":"nominal","scale":{"domain":["vol","volt","cur"],"range":["#3aaecb","#2e9a6e","#d8453f"]},"legend":null}}},
    {"data":{"name":"p4leg"},"mark":{"type":"text","align":"left","fontSize":7.3,"color":"#444444"},"encoding":{"x":{"field":"h","type":"quantitative"},"y":{"field":"pct","type":"quantitative","scale":{"domain":[0,120],"nice":false},"axis":null},"text":{"field":"label"}}},
    {"data":{"name":"p4title"},"mark":{"type":"text","align":"center","baseline":"bottom","fontSize":7,"color":"#333333"},"encoding":{"x":{"field":"h","type":"quantitative"},"y":{"field":"pct","type":"quantitative","scale":{"domain":[0,120],"nice":false},"axis":null},"text":{"field":"label"}}},
    {"data":{"name":"p4legl"},"mark":{"type":"rule","color":"#444444","strokeWidth":1},"encoding":{"x":{"field":"h","type":"quantitative"},"x2":{"field":"h2"},"y":{"field":"pct","type":"quantitative","scale":{"domain":[0,120],"nice":false},"axis":null},"strokeDash":{"field":"dis","type":"nominal","legend":null}}}
   ]}
 ]},
 {"width":43.8,"height":1,"data":{"values":[]},"mark":"point"},
 {"width":1.5,"height":216.5,"data":{"values":[]},"mark":"point","view":{"fill":"#0e3d99","stroke":null}}
]},
{"spacing":0,"hconcat":[
 {"width":348,"height":1.5,"data":{"values":[]},"mark":"point","view":{"fill":"#0e3d99","stroke":null}},
 {"width":12,"height":1,"data":{"values":[]},"mark":"point"},
 {"width":350,"height":1.5,"data":{"values":[]},"mark":"point","view":{"fill":"#0e3d99","stroke":null}}
]},
{"width":1,"height":8.5,"data":{"values":[]},"mark":"point"},
{"spacing":0,"hconcat":[
 {"width":348,"height":23,"view":{"fill":"#0e3d99","stroke":null},"data":{"values":[{"label":"Relación entre temperatura y capacidad"}]},"mark":{"type":"text","align":"left","dx":7,"fontSize":13,"color":"#ffffff"},"encoding":{"text":{"field":"label"},"x":{"datum":0,"type":"quantitative","scale":{"domain":[0,1],"nice":false},"axis":null}}},
 {"width":12,"height":1,"data":{"values":[]},"mark":"point"},
 {"width":350,"height":23,"view":{"fill":"#0e3d99","stroke":null},"data":{"values":[{"label":"Relación entre voltaje de carga y temperatura"}]},"mark":{"type":"text","align":"left","dx":7,"fontSize":11.5,"color":"#ffffff"},"encoding":{"text":{"field":"label"},"x":{"datum":0,"type":"quantitative","scale":{"domain":[0,1],"nice":false},"axis":null}}}
]},
{"spacing":0,"hconcat":[
 {"width":1.5,"height":216.5,"data":{"values":[]},"mark":"point","view":{"fill":"#0e3d99","stroke":null}},
 {"width":5.5,"height":1,"data":{"values":[]},"mark":"point"},
 {"spacing":0,"vconcat":[
  {"width":1,"height":5.75,"data":{"values":[]},"mark":"point"},
  {"width":305,"height":173,"view":{"fill":"#ededed","stroke":"#a8a8a8"},
   "layer":[
    {"data":{"name":"p5"},"mark":{"type":"line","color":"#333333","strokeWidth":1.5,"interpolate":"monotone"},
     "encoding":{"x":{"field":"temp","type":"quantitative","scale":{"domain":[-40,80],"nice":false},"axis":{"values":[-40,-30,-20,-10,0,10,20,30,40,50,60,70,80],"tickCount":100,"format":"d","labelExpr":"datum.value < -20 || datum.value > 60 ? '' : datum.label","labelOverlap":false,"labelFontSize":9,"labelFontWeight":"bold","labelPadding":1,"gridColor":"#b3b3b3","title":"Temperature (℃)","titleFontSize":10,"titlePadding":4}},
      "y":{"field":"cap","type":"quantitative","scale":{"domain":[0,120],"nice":false},"axis":{"values":[20,40,60,80,100,120],"tickCount":100,"format":"d","labelOverlap":false,"labelFontSize":8.5,"labelPadding":2,"labelColor":"#777777","minExtent":17,"maxExtent":17,"gridColor":"#b3b3b3","title":"Capacity(%)","titleFontSize":10,"titlePadding":1}},
      "detail":{"field":"rate","type":"nominal"}}},
    {"data":{"name":"p5d"},"mark":{"type":"rule","color":"#e05a5a","strokeDash":[4,2],"strokeWidth":1},"encoding":{"x":{"field":"temp","type":"quantitative"},"x2":{"field":"temp2"},"y":{"field":"cap","type":"quantitative"}}},
    {"data":{"name":"p5lab"},"mark":{"type":"text","align":"left","fontSize":9,"color":"#444444"},"encoding":{"x":{"field":"temp","type":"quantitative"},"y":{"field":"cap","type":"quantitative"},"text":{"field":"label"}}}
   ]}
 ]},
 {"width":4,"height":1,"data":{"values":[]},"mark":"point"},
 {"width":1.5,"height":216.5,"data":{"values":[]},"mark":"point","view":{"fill":"#0e3d99","stroke":null}},
 {"width":12,"height":1,"data":{"values":[]},"mark":"point"},
 {"width":1.5,"height":216.5,"data":{"values":[]},"mark":"point","view":{"fill":"#0e3d99","stroke":null}},
 {"width":6,"height":1,"data":{"values":[]},"mark":"point"},
 {"spacing":0,"vconcat":[
  {"width":1,"height":10,"data":{"values":[]},"mark":"point"},
  {"width":258,"height":164,"view":{"fill":"#efefef","stroke":"#9a9a9a"},
   "resolve":{"scale":{"y":"independent"},"axis":{"y":"independent"}},
   "layer":[
    {"data":{"name":"p6"},"mark":{"type":"area","fill":"#f07f3c","opacity":0.92,"interpolate":"monotone"},
     "encoding":{"x":{"field":"temp","type":"quantitative","scale":{"domain":[-20,50],"nice":false},"axis":{"values":[-20,-10,0,10,20,30,40,50],"tickCount":100,"format":"d","labelOverlap":false,"labelFontSize":8,"labelPadding":2,"labelColor":"#555555","gridColor":"#a3a3a3","title":"Temperature(°C)","titleFontSize":12,"titlePadding":6}},
      "y":{"field":"hi","type":"quantitative","scale":{"domain":[2.2,2.7],"nice":false},"axis":{"orient":"left","offset":0,"values":[2.2,2.3,2.4,2.5,2.6,2.7],"tickCount":100,"format":".1f","labelOverlap":false,"labelFontSize":6.5,"labelPadding":1,"ticks":true,"tickSize":2,"domain":true,"gridColor":"#a3a3a3","title":"2V","titleAngle":0,"titleX":-5,"titleY":-6,"titleAlign":"center","titleBaseline":"bottom","titleFontSize":7}},
      "y2":{"field":"lo"},"detail":{"field":"band","type":"nominal"}}},
    {"data":{"name":"p6"},"mark":{"type":"point","opacity":0},"encoding":{"x":{"field":"temp","type":"quantitative"},"y":{"field":"hi","type":"quantitative","scale":{"domain":[2.2,2.7],"nice":false},"axis":{"orient":"left","offset":11,"values":[2.2,2.3,2.4,2.5,2.6,2.7],"tickCount":100,"labelExpr":"format(datum.value*3,'.1f')","labelOverlap":false,"labelFontSize":6.5,"labelPadding":1,"ticks":true,"tickSize":2,"domain":true,"grid":false,"title":"6V","titleAngle":0,"titleX":-11,"titleY":-6,"titleAlign":"center","titleBaseline":"bottom","titleFontSize":7}}}},
    {"data":{"name":"p6"},"mark":{"type":"point","opacity":0},"encoding":{"x":{"field":"temp","type":"quantitative"},"y":{"field":"hi","type":"quantitative","scale":{"domain":[2.2,2.7],"nice":false},"axis":{"orient":"left","offset":30,"values":[2.2,2.3,2.4,2.5,2.6,2.7],"tickCount":100,"labelExpr":"format(datum.value*6,'.1f')","labelOverlap":false,"labelFontSize":6.5,"labelPadding":1,"ticks":true,"tickSize":2,"domain":true,"grid":false,"title":"Charge Voltage(V)","titleFontSize":10,"titlePadding":10}}}},
    {"data":{"name":"p6lab"},"mark":{"type":"text","align":"left","fontSize":12,"color":"#3d4d80"},"encoding":{"x":{"field":"temp","type":"quantitative"},"y":{"field":"v","type":"quantitative","scale":{"domain":[2.2,2.7],"nice":false},"axis":null},"text":{"field":"label"}}},
    {"data":{"name":"p6sub"},"mark":{"type":"text","align":"left","fontSize":6,"color":"#5a6a95"},"encoding":{"x":{"field":"temp","type":"quantitative"},"y":{"field":"v","type":"quantitative","scale":{"domain":[2.2,2.7],"nice":false},"axis":null},"text":{"field":"label"}}},
    {"data":{"name":"p6hdr"},"mark":{"type":"text","align":"center","fontSize":7,"color":"#444444"},"encoding":{"x":{"field":"temp","type":"quantitative"},"y":{"field":"v","type":"quantitative","scale":{"domain":[2.2,2.7],"nice":false},"axis":null},"text":{"field":"label"}}}
   ]}
 ]},
 {"width":8.5,"height":1,"data":{"values":[]},"mark":"point"},
 {"width":1.5,"height":216.5,"data":{"values":[]},"mark":"point","view":{"fill":"#0e3d99","stroke":null}}
]},
{"spacing":0,"hconcat":[
 {"width":348,"height":1.5,"data":{"values":[]},"mark":"point","view":{"fill":"#0e3d99","stroke":null}},
 {"width":12,"height":1,"data":{"values":[]},"mark":"point"},
 {"width":350,"height":1.5,"data":{"values":[]},"mark":"point","view":{"fill":"#0e3d99","stroke":null}}
]},
{"width":1,"height":8.5,"data":{"values":[]},"mark":"point"},
{"spacing":0,"hconcat":[
 {"width":348,"height":23,"view":{"fill":"#0e3d99","stroke":null},"data":{"values":[{"label":"Características de autodescarga"}]},"mark":{"type":"text","align":"left","dx":7,"fontSize":13,"color":"#ffffff"},"encoding":{"text":{"field":"label"},"x":{"datum":0,"type":"quantitative","scale":{"domain":[0,1],"nice":false},"axis":null}}},
 {"width":12,"height":1,"data":{"values":[]},"mark":"point"},
 {"width":350,"height":23,"view":{"fill":"#0e3d99","stroke":null},"data":{"values":[{"label":"Temperatura vs Vida Útil"}]},"mark":{"type":"text","align":"left","dx":7,"fontSize":13,"color":"#ffffff"},"encoding":{"text":{"field":"label"},"x":{"datum":0,"type":"quantitative","scale":{"domain":[0,1],"nice":false},"axis":null}}}
]},
{"spacing":0,"hconcat":[
 {"width":1.5,"height":218.5,"data":{"values":[]},"mark":"point","view":{"fill":"#0e3d99","stroke":null}},
 {"spacing":0,"vconcat":[
  {"width":1,"height":9.5,"data":{"values":[]},"mark":"point"},
  {"width":309,"height":173,"view":{"fill":"#ededed","stroke":"#a8a8a8"},
   "layer":[
    {"data":{"name":"p7"},"mark":{"type":"line","strokeWidth":1.4},
     "encoding":{"x":{"field":"m","type":"quantitative","scale":{"domain":[0,20],"nice":false},"axis":{"values":[2,4,6,8,10,12],"tickCount":100,"format":"d","labelOverlap":false,"labelFontSize":10,"labelPadding":1,"labelColor":"#555555","gridColor":"#b3b3b3","title":"Storage time : months","titleFontSize":11,"titlePadding":2}},
      "y":{"field":"cap","type":"quantitative","scale":{"domain":[0,100],"nice":false},"axis":{"values":[0,20,40,60,80,100],"tickCount":100,"format":"d","labelOverlap":false,"labelFontSize":9.5,"labelPadding":2,"labelColor":"#555555","minExtent":18,"maxExtent":18,"gridColor":"#b3b3b3","title":"Capacity (%)","titleFontSize":10.5,"titlePadding":0}},
      "color":{"field":"temp","type":"nominal","scale":{"domain":["10°C","20°C","25°C","30°C","35°C","40°C"],"range":["#4fb4c6","#707070","#252525","#c86a8a","#e32b58","#4a4a4a"]},"legend":null}}},
    {"data":{"name":"p7lab"},"mark":{"type":"text","fontSize":12,"color":"#6a7595"},"encoding":{"x":{"field":"m","type":"quantitative"},"y":{"field":"cap","type":"quantitative"},"text":{"field":"label"}}},
    {"data":{"name":"p7t1"},"mark":{"type":"text","align":"left","baseline":"top","fontSize":5.3,"lineHeight":8,"lineBreak":"\n","color":"#333333"},"encoding":{"x":{"field":"m","type":"quantitative"},"y":{"field":"cap","type":"quantitative"},"text":{"field":"label"}}},
    {"data":{"name":"p7t2"},"mark":{"type":"text","align":"left","baseline":"top","fontSize":4.7,"lineHeight":8,"lineBreak":"\n","color":"#333333"},"encoding":{"x":{"field":"m","type":"quantitative"},"y":{"field":"cap","type":"quantitative"},"text":{"field":"label"}}},
    {"data":{"name":"p7t3"},"mark":{"type":"text","align":"left","baseline":"top","fontSize":6,"lineHeight":8,"lineBreak":"\n","color":"#e04848"},"encoding":{"x":{"field":"m","type":"quantitative"},"y":{"field":"cap","type":"quantitative"},"text":{"field":"label"}}}
   ]}
 ]},
 {"width":4.8,"height":1,"data":{"values":[]},"mark":"point"},
 {"width":1.5,"height":218.5,"data":{"values":[]},"mark":"point","view":{"fill":"#0e3d99","stroke":null}},
 {"width":12,"height":1,"data":{"values":[]},"mark":"point"},
 {"width":1.5,"height":218.5,"data":{"values":[]},"mark":"point","view":{"fill":"#0e3d99","stroke":null}},
 {"width":5.5,"height":1,"data":{"values":[]},"mark":"point"},
 {"spacing":0,"vconcat":[
  {"width":1,"height":16,"data":{"values":[]},"mark":"point"},
  {"width":297,"height":171,"view":{"fill":"#ededed","stroke":"#a8a8a8"},
   "layer":[
    {"data":{"name":"p8"},"mark":{"type":"line","color":"#d84b45","strokeWidth":2,"interpolate":"monotone"},
     "encoding":{"x":{"field":"temp","type":"quantitative","scale":{"domain":[11.3,50,55],"range":[0,241.7,297],"nice":false},"axis":{"values":[20,30,40,50,55],"tickCount":100,"labelExpr":"datum.value + '℃'","labelOverlap":false,"labelFontSize":11,"labelPadding":0,"labelColor":"#555555","gridColor":"#b3b3b3","title":"Battery temperature","titleFontSize":14,"titlePadding":0}},
      "y":{"field":"life","type":"quantitative","scale":{"domain":[0,17.5],"nice":false},"axis":{"values":[0,2,4,6,8,10,12,14,16],"tickCount":100,"format":"d","labelOverlap":false,"labelFontSize":11.5,"labelPadding":2,"labelColor":"#555555","minExtent":15,"maxExtent":15,"gridColor":"#b3b3b3","title":"Life expectanc(years)","titleFontSize":12.5,"titlePadding":0}}}},
    {"data":{"name":"p8lab"},"mark":{"type":"text","fontSize":11,"color":"#666666","lineBreak":"\n","lineHeight":12},"encoding":{"x":{"field":"temp","type":"quantitative"},"y":{"field":"life","type":"quantitative"},"text":{"field":"label"}}}
   ]}
 ]},
 {"width":3.3,"height":1,"data":{"values":[]},"mark":"point"},
 {"width":1.5,"height":218.5,"data":{"values":[]},"mark":"point","view":{"fill":"#0e3d99","stroke":null}}
]},
{"spacing":0,"hconcat":[
 {"width":348,"height":1.5,"data":{"values":[]},"mark":"point","view":{"fill":"#0e3d99","stroke":null}},
 {"width":12,"height":1,"data":{"values":[]},"mark":"point"},
 {"width":350,"height":1.5,"data":{"values":[]},"mark":"point","view":{"fill":"#0e3d99","stroke":null}}
]},
{"width":1,"height":25,"data":{"values":[]},"mark":"point"},
{"width":710,"height":22,"layer":[
 {"data":{"values":[{"label":"line"}]},"mark":{"type":"rule","color":"#222222","strokeWidth":1.6},"encoding":{"x":{"datum":0,"type":"quantitative","scale":{"domain":[0,1],"nice":false},"axis":null},"x2":{"datum":1},"y":{"datum":1,"type":"quantitative","scale":{"domain":[0,1],"nice":false},"axis":null}}},
 {"data":{"values":[{"label":"Nota: Los datos anteriores son valores promedio. (Edición 2022-07)"}]},"mark":{"type":"text","align":"left","fontSize":9.3,"color":"#222222"},"encoding":{"text":{"field":"label"},"x":{"datum":0,"type":"quantitative"},"y":{"datum":0.41,"type":"quantitative"}}},
 {"data":{"values":[{"label":"Pagina 2 de 2"}]},"mark":{"type":"text","align":"left","fontSize":10,"font":"Liberation Serif","fontStyle":"italic","fontWeight":"bold","color":"#222222"},"encoding":{"text":{"field":"label"},"x":{"datum":0.4465,"type":"quantitative"},"y":{"datum":0.41,"type":"quantitative"}}},
 {"data":{"values":[{"label":"www.jycbattery.com"}]},"mark":{"type":"text","align":"right","fontSize":12,"color":"#222222"},"encoding":{"text":{"field":"label"},"x":{"datum":1,"type":"quantitative"},"y":{"datum":0.41,"type":"quantitative"}}}
]}
]
}
